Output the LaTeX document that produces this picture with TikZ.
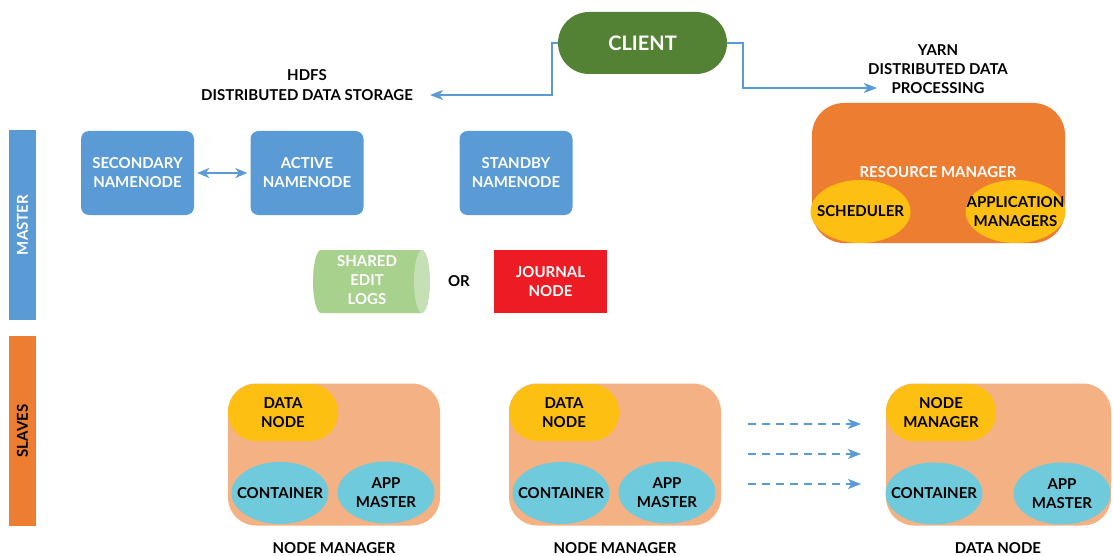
\documentclass[tikz,border=0pt]{standalone}
\usepackage{fontspec}
\setmainfont{Lato}
\usetikzlibrary{arrows.meta,calc,shapes.geometric}
\definecolor{cblue}{HTML}{5B9BD5}
\definecolor{cgreen}{HTML}{548235}
\definecolor{corange}{HTML}{ED7D31}
\definecolor{clorange}{HTML}{F4B183}
\definecolor{cyellow}{HTML}{FDBF12}
\definecolor{ccyan}{HTML}{6FCADB}
\definecolor{clgreen}{HTML}{A9D18E}
\definecolor{clgreenb}{HTML}{C5E0B4}
\definecolor{cred}{HTML}{ED1C24}
\begin{document}
\begin{tikzpicture}[x=1pt,y=-1pt,
  txt/.style={font=\fontsize{15}{19}\selectfont\bfseries, align=center, inner sep=0pt},
  wtxt/.style={txt, text=white},
  btxt/.style={txt, text=black},
  nnbox/.style={wtxt, fill=cblue, rounded corners=8pt, minimum width=113pt, minimum height=84pt},
  bar/.style={minimum width=27pt, minimum height=190pt, inner sep=0pt},
  slavebox/.style={fill=clorange, rounded corners=28pt, inner sep=0pt},
  pill/.style={btxt, fill=cyellow, rounded corners=28pt, minimum width=110pt, minimum height=57pt},
  ell/.style={ellipse, fill=ccyan, inner sep=0pt, minimum width=97pt, minimum height=62pt},
  yell/.style={ellipse, fill=cyellow, inner sep=0pt, minimum width=100pt, minimum height=63pt},
  tip/.style={Stealth[length=13pt,width=10pt,inset=3.5pt]},
  conn/.style={draw=cblue, line width=2pt, -{Stealth[length=13pt,width=10pt,inset=3.5pt]}},
  dconn/.style={conn, dash pattern=on 8pt off 6pt}
]
\useasboundingbox (0,0) rectangle (1113,556);

% side bars
\node[bar, fill=cblue] (masterbar) at (22.5,225) {};
\node[wtxt, rotate=90] (mastertxt) at (22.5,225) {MASTER};
\node[bar, fill=corange] (slavebar) at (22.5,431) {};
\node[btxt, rotate=90] (slavetxt) at (22.5,431) {SLAVES};

% client
\node[wtxt, font=\fontsize{20}{24}\selectfont\bfseries, fill=cgreen, rounded corners=31pt,
      minimum width=169pt, minimum height=62pt] (client) at (642.5,43) {CLIENT};

% HDFS / YARN labels
\node[btxt] (hdfs1) at (307,75) {HDFS};
\node[btxt] (hdfs2) at (307,95) {DISTRIBUTED DATA STORAGE};
\node[btxt] (yarn) at (938,69.5) {YARN\\DISTRIBUTED DATA\\PROCESSING};
\coordinate (hdfsin) at (430,95);
\coordinate (yarnin) at (877,88);
\coordinate (cl1) at (552,43);
\coordinate (cl2) at (743,43);
\draw[conn] (client.west) -- (cl1) |- (hdfsin);
\draw[conn] (client.east) -- (cl2) |- (yarnin);

% namenodes
\node[nnbox] (sec) at (137.5,173) {SECONDARY\\NAMENODE};
\node[nnbox] (act) at (307,173) {ACTIVE\\NAMENODE};
\node[nnbox] (stb) at (516,173) {STANDBY\\NAMENODE};
\draw[draw=cblue, line width=2pt, {Stealth[length=12pt,width=10pt,inset=3.5pt]}-{Stealth[length=12pt,width=10pt,inset=3.5pt]}, shorten <=3pt, shorten >=3pt] (sec.east) -- (act.west);

% shared edit logs cylinder
\fill[clgreen] (422,250) -- (321,250) arc[start angle=90, end angle=270, x radius=8pt, y radius=31.5pt] -- (422,313) -- cycle;
\fill[clgreenb] (422,281.5) ellipse[x radius=8pt, y radius=31.5pt];
\node[wtxt] (logs) at (367,280) {SHARED\\EDIT\\LOGS};
\node[btxt] (or) at (459,281) {OR};
\node[wtxt, fill=cred, minimum width=113pt, minimum height=63pt] (journal) at (550.5,281.5) {JOURNAL\\NODE};

% resource manager
\node[fill=corange, rounded corners=32pt, minimum width=253pt, minimum height=140pt, inner sep=0pt] (rm) at (938.5,173) {};
\node[wtxt] (rmtxt) at (938,172) {RESOURCE MANAGER};
\node[yell, label={[btxt]center:SCHEDULER}] (sched) at (860.5,211.5) {};
\node[yell, label={[btxt]center:APPLICATION\\MANAGERS}] (appm) at (1015.5,211.5) {};

% slave box 1
\node[slavebox, minimum width=212pt, minimum height=142pt] (s1) at (334,454.5) {};
\node[pill] (dn1) at (283,412.5) {DATA\\NODE};
\node[ell, label={[btxt]center:CONTAINER}] (c1) at (280,493) {};
\node[ell, label={[btxt]center:APP\\MASTER}] (a1) at (386,492.5) {};
\node[btxt] (l1) at (334,548) {NODE MANAGER};

% slave box 2
\node[slavebox, minimum width=212pt, minimum height=142pt] (s2) at (615,454.5) {};
\node[pill] (dn2) at (564,412.5) {DATA\\NODE};
\node[ell, label={[btxt]center:CONTAINER}] (c2) at (561,493) {};
\node[ell, label={[btxt]center:APP\\MASTER}] (a2) at (667,492.5) {};
\node[btxt] (l2) at (615,548) {NODE MANAGER};

% slave box 3
\node[slavebox, minimum width=225pt, minimum height=142pt] (s3) at (998.5,454.5) {};
\node[pill] (dn3) at (941,412.5) {NODE\\MANAGER};
\node[ell, label={[btxt]center:CONTAINER}] (c3) at (934,493.5) {};
\node[ell, label={[btxt]center:APP\\MASTER}] (a3) at (1062,493.5) {};
\node[btxt] (l3) at (998,548) {DATA NODE};

% dashed arrows
\coordinate (d1a) at (748,424); \coordinate (d1b) at (861,424);
\coordinate (d2a) at (748,454); \coordinate (d2b) at (861,454);
\coordinate (d3a) at (748,484); \coordinate (d3b) at (861,484);
\draw[dconn] (d1a) -- (d1b);
\draw[dconn] (d2a) -- (d2b);
\draw[dconn] (d3a) -- (d3b);
\end{tikzpicture}
\end{document}
